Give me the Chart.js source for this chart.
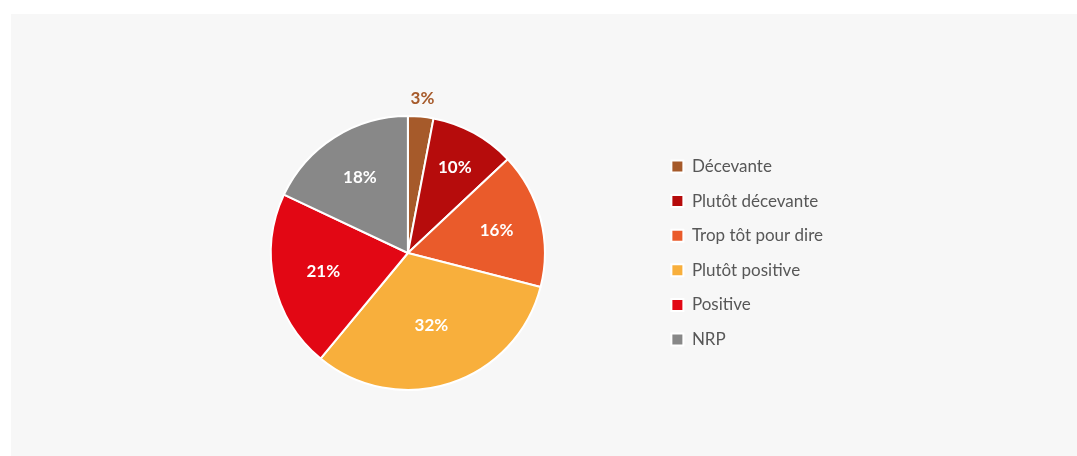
<!DOCTYPE html>
<html lang="fr">
<head>
<meta charset="utf-8">
<title>Répartition des réponses</title>
<script src="https://cdn.jsdelivr.net/npm/chart.js@4/dist/chart.umd.min.js"></script>
<style>
  html, body { margin: 0; padding: 0; background: #ffffff; }
  body { width: 1077px; height: 456px; position: relative; overflow: hidden; }
  #panel {
    position: absolute; left: 11px; top: 14px;
    width: 1066px; height: 442px; background: #f7f7f7;
  }
  #panel canvas { display: block; }
</style>
</head>
<body>
<div id="panel"><canvas id="pie" width="1066" height="442"></canvas></div>
<script>
const categories = ["Décevante", "Plutôt décevante", "Trop tôt pour dire", "Plutôt positive", "Positive", "NRP"];
const shares = [3, 10, 16, 32, 21, 18];
const sliceColors = ["#a65a2a", "#b60c0c", "#ea5b2b", "#f8af3c", "#e20714", "#888888"];

// percentages written on the slices; thin slices push their label further out,
// and the tiny ones get it outside the pie in the slice colour
const sliceLabels = {
  id: "sliceLabels",
  afterDatasetsDraw(chart) {
    const ctx = chart.ctx;
    const meta = chart.getDatasetMeta(0);
    ctx.save();
    ctx.font = "bold 17px Lato, 'Open Sans', sans-serif";
    ctx.textAlign = "center";
    ctx.textBaseline = "middle";
    meta.data.forEach((arc, i) => {
      const p = arc.getProps(["x", "y", "startAngle", "endAngle", "outerRadius"], true);
      const mid = (p.startAngle + p.endAngle) / 2;
      const inside = shares[i] >= 5;
      const r = inside ? p.outerRadius * (0.78 - 0.007 * shares[i]) : p.outerRadius + 18;
      ctx.fillStyle = inside ? "#ffffff" : sliceColors[i];
      ctx.fillText(shares[i] + "%", p.x + Math.cos(mid) * r, p.y + Math.sin(mid) * r);
    });
    ctx.restore();
  },
};

new Chart(document.getElementById("pie"), {
  type: "pie",
  data: {
    labels: categories,
    datasets: [{
      data: shares,
      backgroundColor: sliceColors,
      borderColor: "#ffffff",
      borderWidth: 2,
      radius: 137,
    }],
  },
  options: {
    responsive: false,
    animation: false,
    events: [],
    layout: { padding: { left: 151, right: 244, top: 62, bottom: 26 } },
    plugins: {
      tooltip: { enabled: false },
      legend: {
        position: "right",
        align: "center",
        labels: {
          boxWidth: 12,
          boxHeight: 12,
          padding: 17.6,
          color: "#575757",
          font: { family: "Lato, 'Open Sans', sans-serif", size: 17 },
        },
      },
    },
  },
  plugins: [sliceLabels],
});
</script>
</body>
</html>
